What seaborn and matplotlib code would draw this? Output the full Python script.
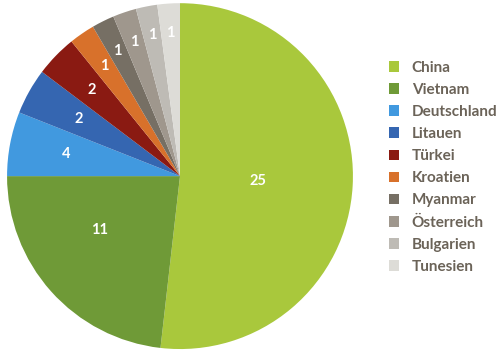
import numpy as np
import matplotlib
matplotlib.use('Agg')
import matplotlib.pyplot as plt
import seaborn as sns
from matplotlib.patches import Patch

sns.set_style('white')
plt.rcParams['font.family'] = ['Lato', 'DejaVu Sans']

laender = ['China', 'Vietnam', 'Deutschland', 'Litauen', 'Türkei', 'Kroatien',
           'Myanmar', 'Österreich', 'Bulgarien', 'Tunesien']
# slice share in percent (as drawn) and the count printed on each slice
anteil = [51.8, 23.2, 6.0, 4.3, 3.9, 2.4, 2.1, 2.2, 2.0, 2.1]
anzahl = [25, 11, 4, 2, 2, 1, 1, 1, 1, 1]
farben = ['#a9c83c', '#6f9a37', '#4199df', '#3566b1', '#8a1a12', '#d8712b',
          '#766f64', '#9f978d', '#bebbb5', '#dddcd7']
# label placement: distance from centre (fraction of radius) and angle shift (deg)
label_r = [0.45, 0.56, 0.67, 0.67, 0.715, 0.77, 0.81, 0.82, 0.83, 0.83]
label_shift = [0, -8, 0, 0, 0, 0, 0, 0, 0, 0]

fig = plt.figure(figsize=(5, 3.54), dpi=100)
ax = fig.add_axes([0.012, 0.014, 0.696, 0.977])

wedges, texts = ax.pie(anteil, colors=farben, startangle=90, counterclock=False,
                       wedgeprops=dict(linewidth=0))
for w, val, r, s in zip(wedges, anzahl, label_r, label_shift):
    ang = np.deg2rad((w.theta1 + w.theta2) / 2 + s)
    ax.text(r * np.cos(ang), r * np.sin(ang), str(val), ha='center', va='center',
            color='white', fontsize=10.5, fontweight='bold')
ax.set_aspect('equal')
ax.set_xlim(-1, 1)
ax.set_ylim(-1, 1)

handles = [Patch(facecolor=c, edgecolor='none') for c in farben]
leg = fig.legend(handles, laender, loc='upper left', bbox_to_anchor=(0.75, 0.867),
                 frameon=False, handlelength=0.7, handleheight=0.7,
                 labelspacing=0.53, handletextpad=0.8, prop=dict(size=11, weight='bold'))
for t in leg.get_texts():
    t.set_color('#6b6358')

fig.savefig('out.png', dpi=100)
